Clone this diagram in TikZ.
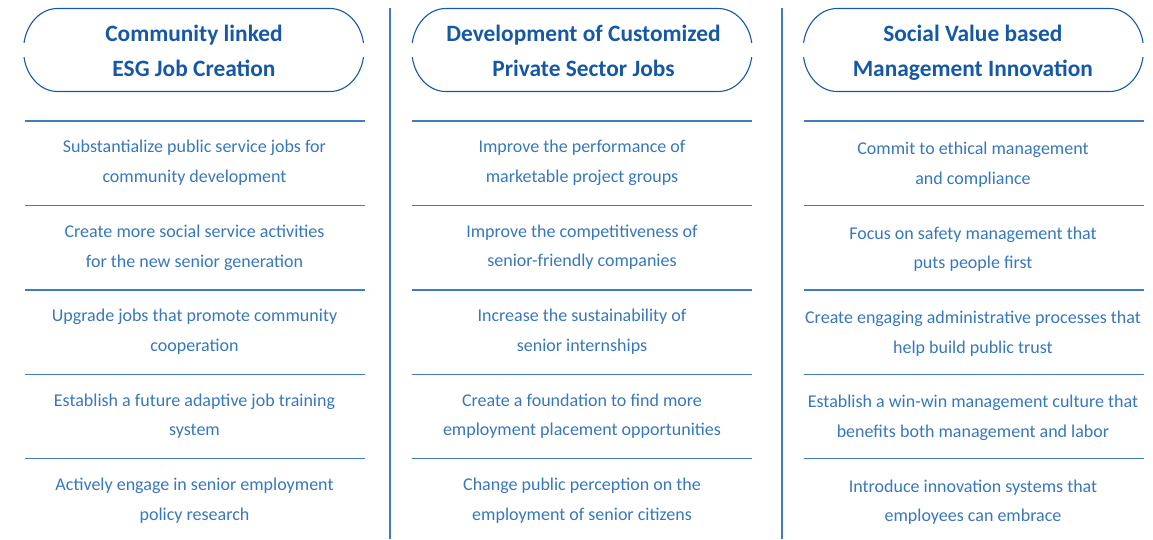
\documentclass[tikz,border=0pt]{standalone}
\usepackage{fontspec}
\setmainfont{Carlito}
\definecolor{hdrblue}{HTML}{1558A8}
\definecolor{itemblue}{HTML}{3677BE}
\definecolor{lineblue}{HTML}{3F7DC2}
\begin{document}
\begin{tikzpicture}[x=1pt,y=-1pt,
  hdr/.style={font=\fontsize{23.4}{35}\selectfont\bfseries, text=hdrblue, align=center, inner sep=0pt},
  item/.style={font=\fontsize{18}{29.5}\selectfont, text=itemblue, align=center, inner sep=0pt},
  sep/.style={draw=lineblue, line width=1.1pt},
  frame/.style={draw=hdrblue, line width=1.1pt}]
\useasboundingbox (0,0) rectangle (1153,539);
% dividers
\draw[sep] (390,8) -- (390,539);
\draw[sep] (782,8) -- (782,539);
% headers
\node[hdr] (h1) at (194,52) {\strut Community linked\\ESG Job Creation\strut};
\node[hdr] (h2) at (583.5,52) {\strut Development of Customized\\Private Sector Jobs\strut};
\node[hdr] (h3) at (972.8,52) {\strut Social Value based\\Management Innovation\strut};
\foreach \cx in {193.75, 582, 973.3}{
  \draw[frame] (\cx-136.25,8.5) arc[start angle=90,end angle=170,x radius=34pt,y radius=41.5pt]
    (\cx-136.25,8.5) -- (\cx+136.25,8.5) arc[start angle=90,end angle=10,x radius=34pt,y radius=41.5pt];
  \draw[frame] (\cx-136.25,91.5) arc[start angle=270,end angle=190,x radius=34pt,y radius=41.5pt]
    (\cx-136.25,91.5) -- (\cx+136.25,91.5) arc[start angle=270,end angle=350,x radius=34pt,y radius=41.5pt];
}
% separators
\foreach \y in {121,205.5,290,374.3,458.3}{
  \draw[sep] (25,\y) -- (364.5,\y);
  \draw[sep] (412,\y) -- (752,\y);
  \draw[sep] (804,\y) -- (1144,\y);
}
% column 1
\node[item] (a1) at (194.5,161.5) {\strut Substantialize public service jobs for\\community development\strut};
\node[item] (a2) at (194.5,246.5) {\strut Create more social service activities\\for the new senior generation\strut};
\node[item] (a3) at (194.5,330.5) {\strut Upgrade jobs that promote community\\cooperation\strut};
\node[item] (a4) at (194.5,415) {\strut Establish a future adaptive job training\\system\strut};
\node[item] (a5) at (194.5,499.5) {\strut Actively engage in senior employment\\policy research\strut};
% column 2
\node[item] (b1) at (582,161.5) {\strut Improve the performance of\\marketable project groups\strut};
\node[item] (b2) at (582,246) {\strut Improve the competitiveness of\\senior-friendly companies\strut};
\node[item] (b3) at (582,330.5) {\strut Increase the sustainability of\\senior internships\strut};
\node[item] (b4) at (582,415) {\strut Create a foundation to find more\\employment placement opportunities\strut};
\node[item] (b5) at (582,499.5) {\strut Change public perception on the\\employment of senior citizens\strut};
% column 3
\node[item] (c1) at (973,163.5) {\strut Commit to ethical management\\and compliance\strut};
\node[item] (c2) at (973,248) {\strut Focus on safety management that\\puts people first\strut};
\node[item] (c3) at (973,332.5) {\strut Create engaging administrative processes that\\help build public trust\strut};
\node[item] (c4) at (973,416.5) {\strut Establish a win-win management culture that\\benefits both management and labor\strut};
\node[item] (c5) at (973,501) {\strut Introduce innovation systems that\\employees can embrace\strut};
\end{tikzpicture}
\end{document}
